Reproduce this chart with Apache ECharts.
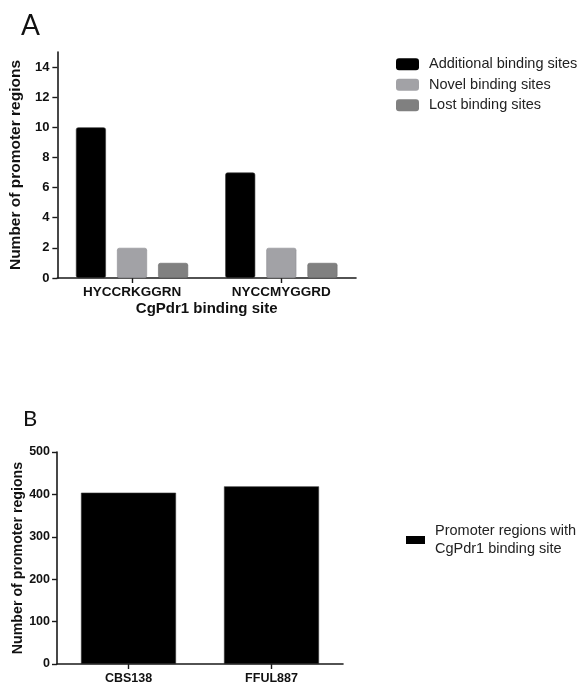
<!DOCTYPE html>
<html>
<head>
<meta charset="utf-8">
<title>CgPdr1 binding sites in promoter regions</title>
<script src="https://cdn.jsdelivr.net/npm/echarts@6/dist/echarts.min.js"></script>
<style>
  html, body { margin: 0; padding: 0; background: #fff; }
  #chart { width: 580px; height: 685px; }
</style>
</head>
<body>
<div id="chart"></div>
<script>
// Panel A: promoter regions per CgPdr1 motif
const siteCategories = ['HYCCRKGGRN', 'NYCCMYGGRD'];
const additionalSites = [10, 7];
const novelSites = [2, 2];
const lostSites = [1, 1];
const siteTicks = [0, 2, 4, 6, 8, 10, 12, 14];

// Panel B: promoter regions with a CgPdr1 binding site per strain
const strainCategories = ['CBS138', 'FFUL887'];
const promoterCounts = [404, 419];
const strainTicks = [0, 100, 200, 300, 400, 500];

const boldFont = 'Liberation Sans, Arial, sans-serif';
const axisColor = '#1a1a1a';

const chart = echarts.init(document.getElementById('chart'), null, { renderer: 'canvas' });

const axisLine = { show: true, lineStyle: { color: axisColor, width: 1.6 } };
const tickStyle = { color: axisColor, width: 1.4 };

chart.setOption({
  animation: false,
  backgroundColor: '#ffffff',
  graphic: [
    { type: 'text', left: 21, top: 12, style: { text: 'A', font: '28px Lato, "Open Sans", sans-serif', fill: '#111' } },
    { type: 'text', left: 23, top: 408, style: { text: 'B', font: '22px Lato, "Open Sans", sans-serif', fill: '#111' } }
  ],
  legend: [
    {
      left: 391, top: 51, orient: 'vertical',
      itemWidth: 23, itemHeight: 12, itemGap: 4, icon: 'roundRect',
      itemStyle: { borderWidth: 0 },
      textStyle: { fontFamily: boldFont, fontSize: 14.5, color: '#222', lineHeight: 16.5, padding: [0, 0, 0, 5] },
      data: ['Additional binding sites', 'Novel binding sites', 'Lost binding sites']
    },
    {
      left: 401, top: 517, orient: 'vertical',
      itemWidth: 19, itemHeight: 8, icon: 'rect',
      itemStyle: { borderWidth: 0 },
      textStyle: { fontFamily: boldFont, fontSize: 14.5, color: '#222', lineHeight: 18, padding: [0, 0, 0, 5] },
      data: ['Promoter regions with\nCgPdr1 binding site']
    }
  ],
  grid: [
    { left: 54, top: 52, width: 302, height: 226 },
    { left: 57, top: 452, width: 286, height: 215 }
  ],
  xAxis: [
    {
      type: 'category', gridIndex: 0, data: siteCategories,
      axisLine: axisLine,
      axisTick: { show: true, alignWithLabel: true, length: 5, lineStyle: tickStyle },
      axisLabel: { fontFamily: boldFont, fontWeight: 'bold', fontSize: 13.5, color: '#111', margin: 7 },
      name: 'CgPdr1 binding site', nameLocation: 'middle', nameGap: 23,
      nameTextStyle: { fontFamily: boldFont, fontWeight: 'bold', fontSize: 15, color: '#111' }
    },
    {
      type: 'category', gridIndex: 1, data: strainCategories,
      axisLine: axisLine,
      axisTick: { show: true, alignWithLabel: true, length: 5, lineStyle: tickStyle },
      axisLabel: { fontFamily: boldFont, fontWeight: 'bold', fontSize: 12.5, color: '#111', margin: 8 }
    }
  ],
  yAxis: [
    {
      type: 'value', gridIndex: 0, min: 0, max: 15,
      splitLine: { show: false },
      axisLine: axisLine,
      axisTick: { show: true, length: 5, lineStyle: tickStyle, customValues: siteTicks },
      axisLabel: { fontFamily: boldFont, fontWeight: 'bold', fontSize: 13, color: '#111', margin: 8, customValues: siteTicks },
      name: 'Number of promoter regions', nameLocation: 'middle', nameGap: 25,
      nameTextStyle: { fontFamily: boldFont, fontWeight: 'bold', fontSize: 15.5, color: '#111' }
    },
    {
      type: 'value', gridIndex: 1, min: 0, max: 500, interval: 100,
      splitLine: { show: false },
      axisLine: axisLine,
      axisTick: { show: true, length: 5, lineStyle: tickStyle, customValues: strainTicks },
      axisLabel: { fontFamily: boldFont, fontWeight: 'bold', fontSize: 12.5, color: '#111', margin: 7, customValues: strainTicks },
      name: 'Number of promoter regions', nameLocation: 'middle', nameGap: 31,
      nameTextStyle: { fontFamily: boldFont, fontWeight: 'bold', fontSize: 14.2, color: '#111' }
    }
  ],
  series: [
    {
      name: 'Additional binding sites', type: 'bar', xAxisIndex: 0, yAxisIndex: 0,
      data: additionalSites, barWidth: 30, barGap: '37%',
      itemStyle: { color: '#000000', borderColor: '#3a3a3a', borderWidth: 0.6, borderRadius: 2 }
    },
    {
      name: 'Novel binding sites', type: 'bar', xAxisIndex: 0, yAxisIndex: 0,
      data: novelSites, barWidth: 30, barGap: '37%',
      itemStyle: { color: '#a2a2a6', borderColor: '#8f8f93', borderWidth: 0.6, borderRadius: 2 }
    },
    {
      name: 'Lost binding sites', type: 'bar', xAxisIndex: 0, yAxisIndex: 0,
      data: lostSites, barWidth: 30, barGap: '37%',
      itemStyle: { color: '#808080', borderColor: '#6c6c6c', borderWidth: 0.6, borderRadius: 2 }
    },
    {
      name: 'Promoter regions with\nCgPdr1 binding site', type: 'bar', xAxisIndex: 1, yAxisIndex: 1,
      data: promoterCounts, barWidth: 95,
      itemStyle: { color: '#000000', borderColor: '#333333', borderWidth: 0.6 }
    }
  ]
});
</script>
</body>
</html>
